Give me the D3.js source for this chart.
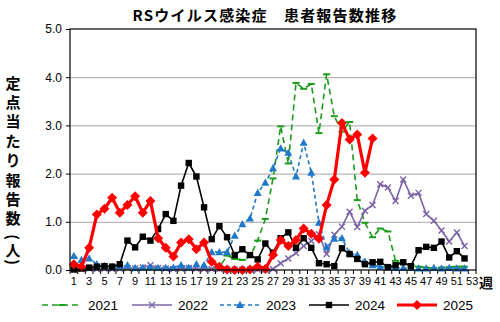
<!DOCTYPE html>
<html>
<head>
<meta charset="utf-8">
<script src="https://cdn.jsdelivr.net/npm/d3@7/dist/d3.min.js"></script>
<style>
  html, body { margin: 0; padding: 0; background: #fff; }
  svg { display: block; }
  text { font-family: "Liberation Sans", "Noto Sans CJK JP", sans-serif; fill: #000; }
  .cjk { font-family: "Noto Sans CJK JP", "Liberation Sans", sans-serif; }
</style>
</head>
<body>
<svg id="chart" width="500" height="322"></svg>
<script>
// Weekly reports per sentinel site, weeks 1-53
const weeks = d3.range(1, 54);
const weekLabels = weeks.filter(w => w % 2 === 1);
const yTicks = [0, 1, 2, 3, 4, 5];

const v2021 = [0.02,0.02,0.02,0.02,0.03,0.03,0.03,0.02,0.02,0.02,0.02,0.02,0.02,0.02,0.02,0.02,0.02,0.02,0.03,0.05,
  0.30,0.23,0.21,0.28,0.61,1.06,1.90,2.98,2.21,3.88,3.76,3.86,2.84,4.06,3.19,2.87,3.07,1.45,0.98,0.68,
  0.86,0.80,0.19,0.14,0.10,0.07,0.05,0.04,0.05,0.06,0.07,0.07];
const v2022 = [0.02,0.02,0.03,0.02,0.03,0.02,0.03,0.04,0.03,0.05,0.10,0.04,0.03,0.02,0.03,0.04,0.03,0.02,0.02,0.02,
  0.01,0.01,0.01,0.01,0.01,0.01,0.02,0.14,0.24,0.35,0.50,0.60,0.74,0.33,0.73,0.90,1.21,0.89,1.23,1.35,
  1.78,1.71,1.43,1.88,1.54,1.60,1.16,1.02,0.82,0.59,0.78,0.50];
const v2023 = [0.29,0.21,0.24,0.12,0.08,0.07,0.08,0.10,0.04,0.05,0.05,0.04,0.04,0.05,0.10,0.05,0.12,0.10,0.37,0.37,
  0.37,0.71,0.95,1.07,1.60,1.81,2.11,2.52,2.43,1.94,2.64,2.02,0.98,0.47,0.65,0.66,0.35,0.31,0.17,0.10,
  0.07,0.05,0.04,0.04,0.04,0.03,0.03,0.04,0.03,0.04,0.03,0.03];
const v2024 = [0.01,0.03,0.05,0.07,0.08,0.07,0.12,0.61,0.47,0.69,0.61,0.85,1.16,1.02,1.75,2.22,1.94,1.30,0.64,0.91,
  0.68,0.31,0.43,0.31,0.22,0.55,0.36,0.66,0.78,0.46,0.66,0.46,0.14,0.12,0.08,0.45,0.33,0.23,0.12,0.16,
  0.17,0.06,0.10,0.16,0.08,0.41,0.48,0.46,0.59,0.26,0.39,0.24];
const v2025 = [0.12,0.07,0.46,1.15,1.27,1.50,1.19,1.35,1.53,1.19,1.43,0.66,0.46,0.28,0.57,0.64,0.43,0.57,0.17,0.07,
  0.01,0.00,0.00,0.01,0.07,0.02,0.31,0.62,0.50,0.62,0.86,0.75,0.65,1.35,1.88,3.05,2.71,2.81,2.02,2.73];

const seriesNames = ["2021", "2022", "2023", "2024", "2025"];
const seriesValues = [v2021, v2022, v2023, v2024, v2025];

const styles = {
  "2021": { color: "#1a9c1a", width: 1.6, dash: "6,4", marker: "dash" },
  "2022": { color: "#7b62a8", width: 1.6, dash: null, marker: "cross" },
  "2023": { color: "#1f78c8", width: 1.6, dash: "4,3", marker: "triangle" },
  "2024": { color: "#000000", width: 1.6, dash: null, marker: "square" },
  "2025": { color: "#ff0000", width: 3.2, dash: null, marker: "diamond" }
};

const svg = d3.select("#chart");
const plot = { left: 70, right: 476, top: 29, bottom: 270 };

const x = d3.scaleBand().domain(weeks).range([plot.left, plot.right]).paddingInner(0).paddingOuter(0);
const cx = w => x(w) + x.bandwidth() / 2;
const y = d3.scaleLinear().domain([0, 5]).range([plot.bottom, plot.top]);

// Title
svg.append("text")
  .attr("class", "cjk")
  .attr("x", 265).attr("y", 21)
  .attr("text-anchor", "middle")
  .style("font-size", "15px").style("font-weight", "bold").style("letter-spacing", "1.2px")
  .text("RSウイルス感染症　患者報告数推移");

// Horizontal gridlines
svg.append("g")
  .attr("transform", `translate(${plot.left},0)`)
  .call(d3.axisLeft(y).tickValues(yTicks.slice(1, -1)).tickSize(-(plot.right - plot.left)).tickFormat(""))
  .call(g => g.select(".domain").remove())
  .call(g => g.selectAll("line").attr("stroke", "#a6a6a6").attr("stroke-width", 1));

// Y axis
const yAxis = svg.append("g")
  .attr("transform", `translate(${plot.left},0)`)
  .call(d3.axisLeft(y).tickValues(yTicks).tickSize(4).tickPadding(4).tickFormat(d3.format(".1f")));
yAxis.select(".domain").remove();
yAxis.selectAll("text").style("font-size", "12px").attr("fill", "#000");
yAxis.selectAll("line").attr("stroke", "#000");

// X axis: labels on odd weeks, ticks at week boundaries
const xAxis = svg.append("g")
  .attr("transform", `translate(0,${plot.bottom})`)
  .call(d3.axisBottom(x).tickValues(weekLabels).tickSize(0).tickPadding(7));
xAxis.select(".domain").remove();
xAxis.selectAll("text").style("font-size", "11px").attr("fill", "#000");
svg.append("g")
  .selectAll("line")
  .data(weeks.concat([null]))
  .join("line")
  .attr("x1", d => d === null ? plot.right : x(d))
  .attr("x2", d => d === null ? plot.right : x(d))
  .attr("y1", plot.bottom).attr("y2", plot.bottom + 4)
  .attr("stroke", "#000").attr("stroke-width", 1);

svg.append("text")
  .attr("class", "cjk")
  .attr("x", 479).attr("y", 288)
  .style("font-size", "14px").style("font-weight", "bold")
  .attr("text-anchor", "start")
  .text("週");

// Y axis title, stacked vertically
const yTitleChars = ["定", "点", "当", "た", "り", "報", "告", "数"];
const yTitle = svg.append("g").attr("class", "ytitle");
yTitleChars.forEach((c, i) => {
  yTitle.append("text")
    .attr("class", "cjk")
    .attr("x", 13).attr("y", 82 + i * 19.4)
    .attr("text-anchor", "middle").attr("dominant-baseline", "central")
    .style("font-size", "15px").style("font-weight", "bold")
    .text(c);
});
[["(", 237, true], ["人", 249, false], [")", 262, true]].forEach(([c, yy, rot]) => {
  yTitle.append("text")
    .attr("class", "cjk")
    .attr("transform", `translate(13,${yy})${rot ? " rotate(90)" : ""}`)
    .attr("text-anchor", "middle").attr("dominant-baseline", "central")
    .style("font-size", "15px").style("font-weight", "bold")
    .text(c);
});

// Marker drawing
function drawMarker(g, type, color, px, py) {
  if (type === "square") {
    g.append("rect").attr("x", px - 3.2).attr("y", py - 3.2).attr("width", 6.4).attr("height", 6.4).attr("fill", color);
  } else if (type === "diamond") {
    g.append("path").attr("d", `M${px},${py - 5}L${px + 5},${py}L${px},${py + 5}L${px - 5},${py}Z`).attr("fill", color);
  } else if (type === "triangle") {
    g.append("path").attr("d", `M${px},${py - 4.2}L${px + 4},${py + 3}L${px - 4},${py + 3}Z`).attr("fill", color);
  } else if (type === "cross") {
    g.append("path").attr("d", `M${px - 3},${py - 3}L${px + 3},${py + 3}M${px - 3},${py + 3}L${px + 3},${py - 3}`)
      .attr("stroke", color).attr("stroke-width", 1.4).attr("fill", "none");
  } else if (type === "dash") {
    g.append("rect").attr("x", px - 3.5).attr("y", py - 1).attr("width", 7).attr("height", 2).attr("fill", color);
  }
}

// Series lines
const lineGen = d3.line().x(d => cx(d.w)).y(d => y(d.v));
seriesNames.forEach((name, si) => {
  const st = styles[name];
  const data = seriesValues[si].map((v, i) => ({ w: weeks[i], v }));
  const g = svg.append("g").attr("class", "series s" + name);
  g.append("path")
    .datum(data)
    .attr("d", lineGen)
    .attr("fill", "none")
    .attr("stroke", st.color)
    .attr("stroke-width", st.width)
    .attr("stroke-linejoin", "round")
    .attr("stroke-dasharray", st.dash);
  data.forEach(d => drawMarker(g, st.marker, st.color, cx(d.w), y(d.v)));
});

// Plot frame
svg.append("rect")
  .attr("x", plot.left).attr("y", plot.top)
  .attr("width", plot.right - plot.left).attr("height", plot.bottom - plot.top)
  .attr("fill", "none").attr("stroke", "#000").attr("stroke-width", 1.2);

// Legend
const legendX = [42, 132, 220, 309, 397];
const legendY = 305;
const legend = svg.append("g").attr("class", "legend");
seriesNames.forEach((name, i) => {
  const st = styles[name];
  const x0 = legendX[i], x1 = x0 + 40;
  legend.append("line")
    .attr("x1", x0).attr("x2", x1).attr("y1", legendY).attr("y2", legendY)
    .attr("stroke", st.color).attr("stroke-width", st.width)
    .attr("stroke-dasharray", st.dash);
  drawMarker(legend, st.marker, st.color, (x0 + x1) / 2, legendY);
  legend.append("text")
    .attr("x", x1 + 6).attr("y", legendY + 5)
    .style("font-size", "13.5px")
    .text(name);
});
</script>
</body>
</html>
